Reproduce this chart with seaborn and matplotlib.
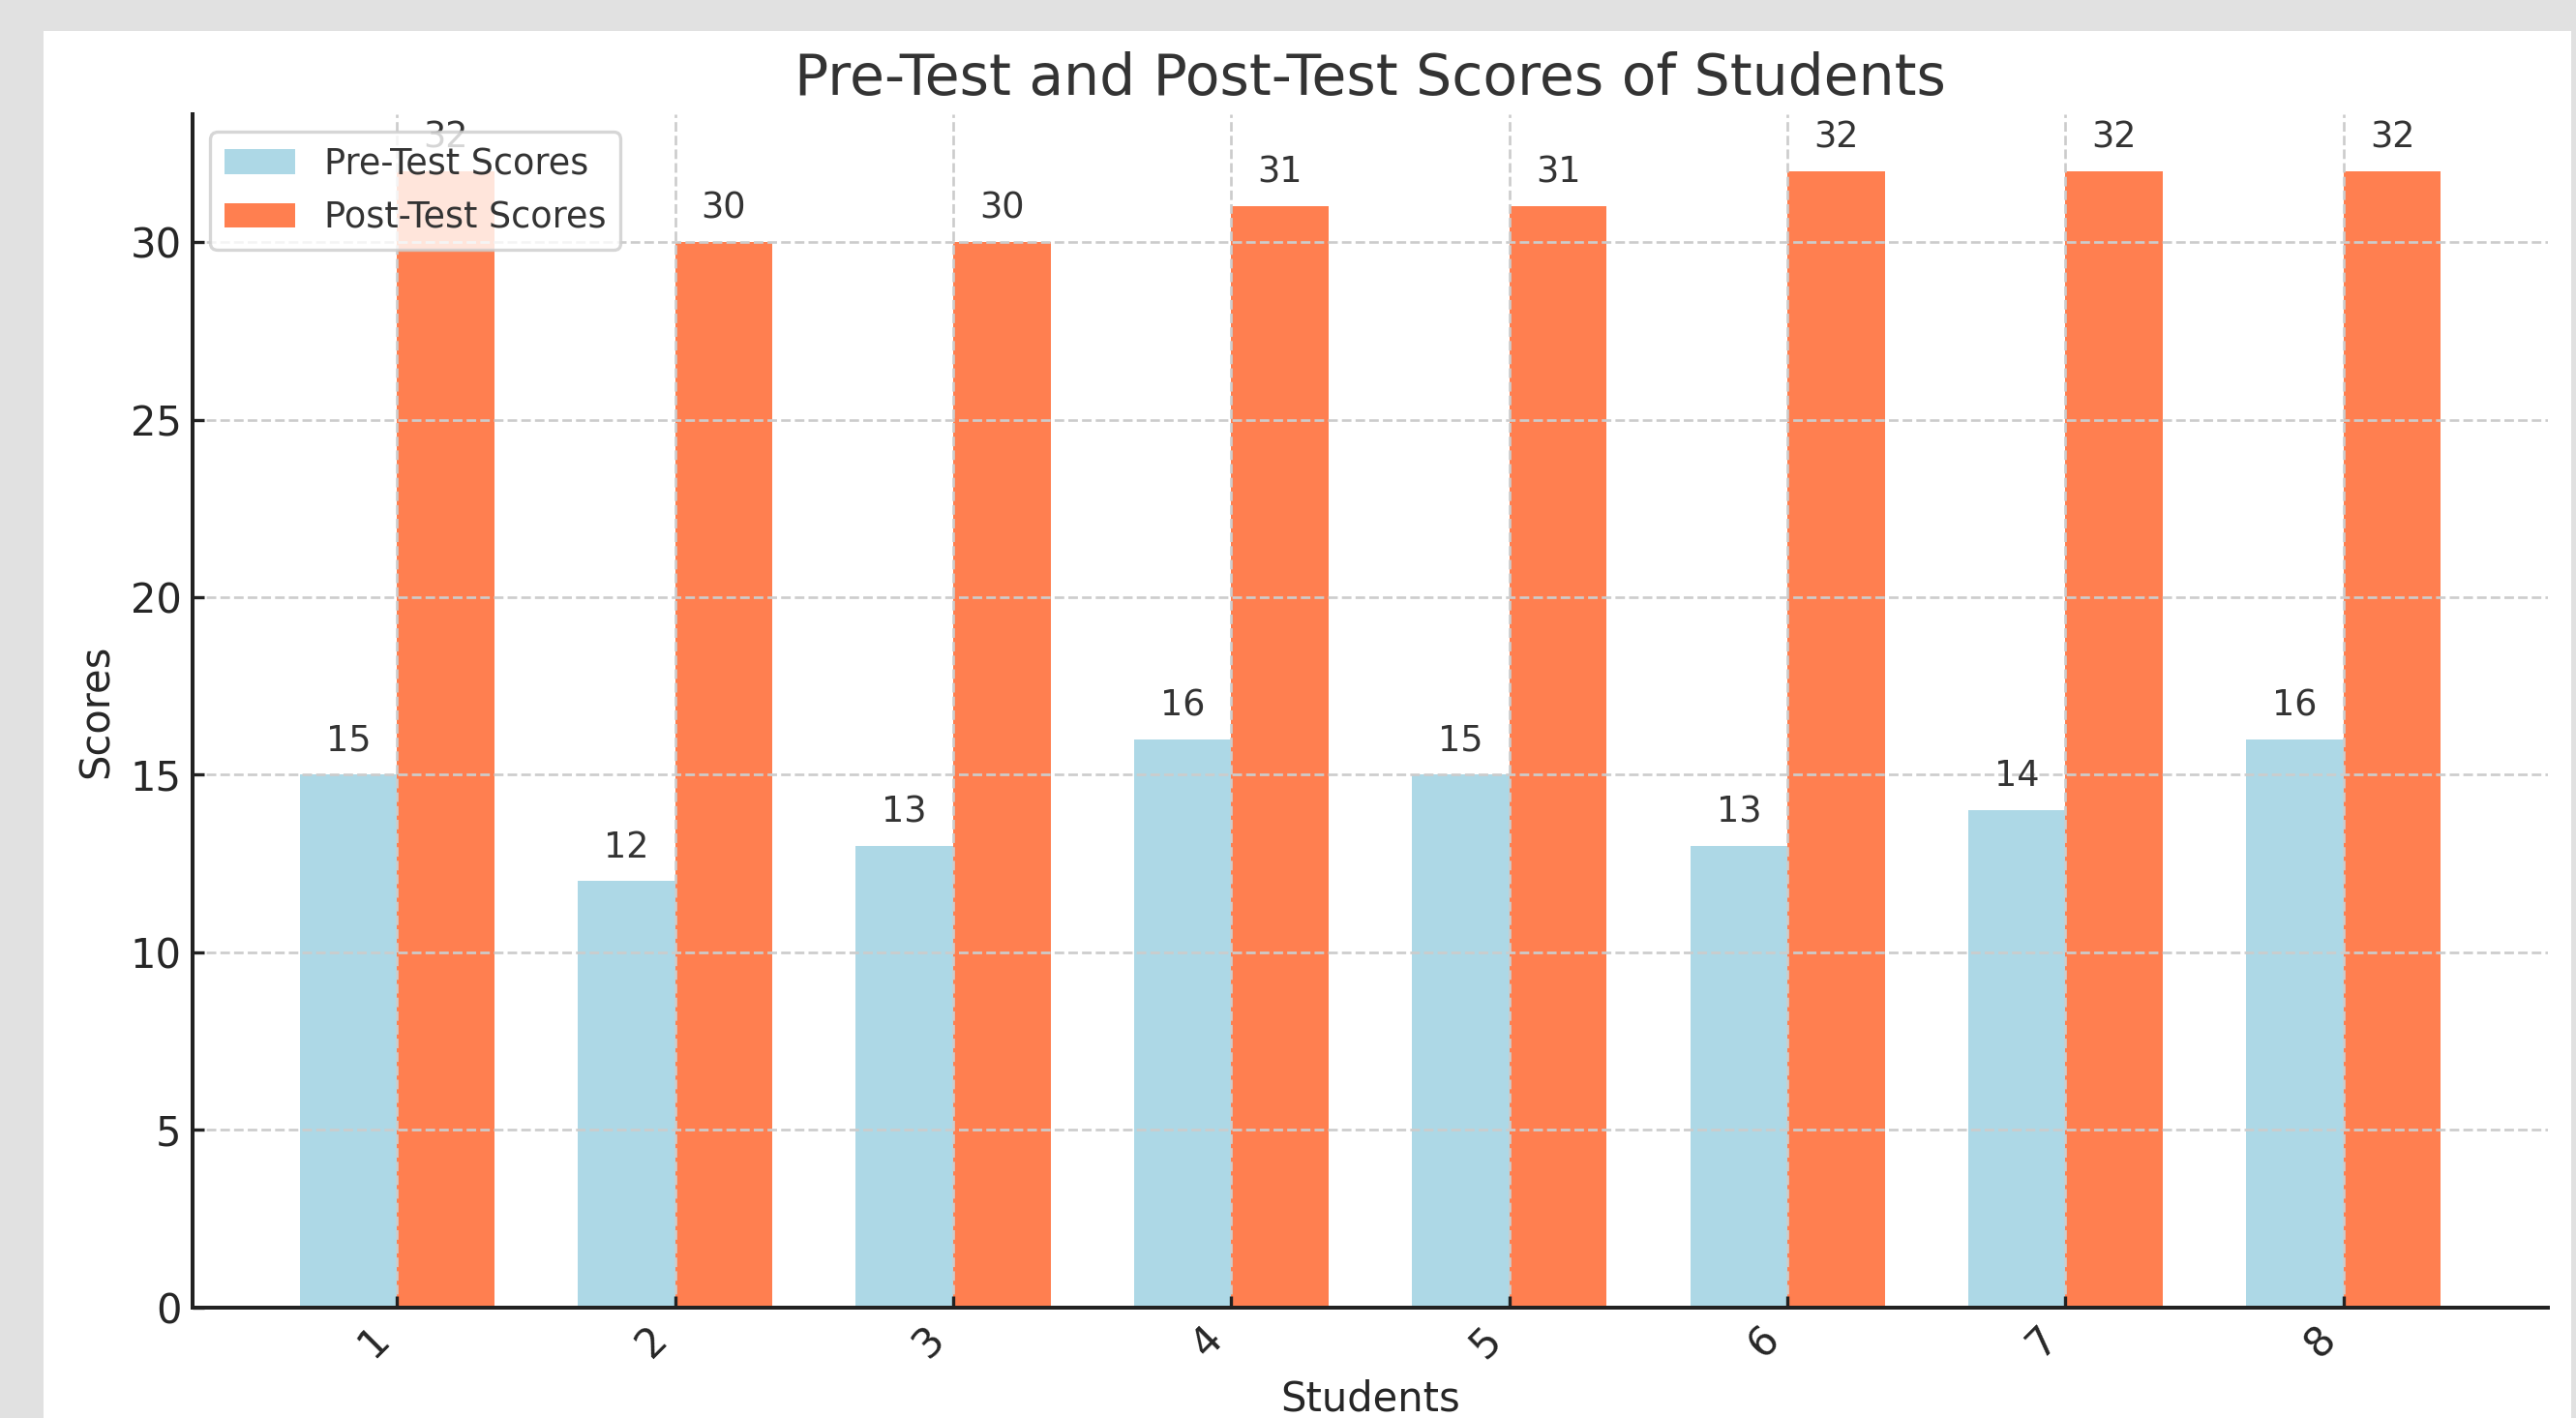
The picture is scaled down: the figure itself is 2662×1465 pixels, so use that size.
import pandas as pd
import matplotlib
matplotlib.use('Agg')
import matplotlib.pyplot as plt
from matplotlib.patches import Rectangle
import seaborn as sns

# 数据
students = ['1', '2', '3', '4', '5', '6', '7', '8']
pre_scores = [15, 12, 13, 16, 15, 13, 14, 16]
post_scores = [32, 30, 30, 31, 31, 32, 32, 32]
series_names = ['Pre-Test Scores', 'Post-Test Scores']
bar_colors = ['#add8e6', '#ff7f50']

df = pd.DataFrame({
    'Students': students * 2,
    'Scores': pre_scores + post_scores,
    'Test': [series_names[0]] * len(students) + [series_names[1]] * len(students),
})

sns.set_style('ticks')
plt.rcParams['font.family'] = ['DejaVu Sans']

DPI = 240
fig = plt.figure(figsize=(2662 / DPI, 1465 / DPI), dpi=DPI, facecolor='#e1e1e1')
# 白色画布区域（截图的灰边）
fig.add_artist(Rectangle((45 / 2662, 0), (2657 - 45) / 2662, (1465 - 32) / 1465,
                         transform=fig.transFigure, facecolor='white',
                         edgecolor='none', zorder=-1))
ax = fig.add_axes([0.0748, 0.0780, 0.9143, 0.8414])

sns.barplot(data=df, x='Students', y='Scores', hue='Test',
            order=students, hue_order=series_names, palette=bar_colors,
            saturation=1, width=0.7, errorbar=None, linewidth=0, ax=ax)

# 和 matplotlib 默认的边距一致
n = len(students)
pad = 0.05 * (n - 1 + 0.7)
ax.set_xlim(-0.35 - pad, n - 1 + 0.35 + pad)

# 柱子上的数值
for cont in ax.containers:
    ax.bar_label(cont, fmt='{:.0f}', padding=5, fontsize=11, color='#333333')

ax.set_title('Pre-Test and Post-Test Scores of Students', fontsize=17.5, color='#333333')
ax.set_xlabel('Students', fontsize=12.5, color='#262626')
ax.set_ylabel('Scores', fontsize=12.5, color='#262626')

ax.tick_params(direction='in', length=3.5, width=1.0, labelsize=12.5,
               color='#222222', labelcolor='#262626')
plt.setp(ax.get_xticklabels(), rotation=45, ha='right')

for s in ['top', 'right']:
    ax.spines[s].set_visible(False)
for s in ['left', 'bottom']:
    ax.spines[s].set_linewidth(1.2)
    ax.spines[s].set_color('#222222')
    ax.spines[s].set_zorder(3)

ax.set_axisbelow(False)
ax.grid(True, linestyle='--', color='#cccccc', linewidth=0.8)

ax.legend(loc='upper left', fontsize=11, labelcolor='#333333')

fig.savefig('out.png', dpi=DPI, facecolor=fig.get_facecolor())
plt.close(fig)
